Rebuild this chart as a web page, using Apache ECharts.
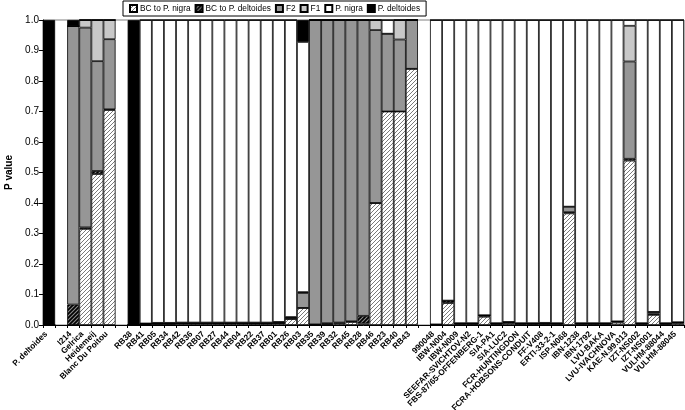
<!DOCTYPE html>
<html><head><meta charset="utf-8">
<script src="https://cdn.jsdelivr.net/npm/echarts@6/dist/echarts.min.js"></script>
<style>html,body{margin:0;padding:0;background:#fff}#c{width:685px;height:410px}</style>
</head><body><div id="c"></div>
<script>
const categories = ['P. deltoides',' ','I214','Gelrica','Heidemeij','Blanc Du Poitou','  ',
 'RB38','RB41','RB05','RB34','RB42','RB36','RB07','RB27','RB44','RB04','RB22','RB37','RB01','RB26','RB03','RB35','RB39','RB32','RB45','RB28','RB46','RB23','RB40','RB43','   ',
 '990048','IBW-N004','IBW-N009','SEEFAR-SVICHTOV-N2','FBS-87/65-OFFENBERG-1','SIA-PA1','SIA-LUC2','FCR-HUNTINGDON','FCRA-HOBSONS-CONDUIT','FF-V408','ERTI-33-2-1','ISP-N068','IBN-1238','IBN-1792','LVU-BAKA','LVU-IVACHNOVA','KAE-N.99.013','IZT-NS002','IZT-NS001','VULHM-88044','VULHM-88045'];

const bcNigra = [0,null,0,0.315,0.495,0.705,null,
 0,0.003,0.004,0.004,0.005,0.005,0.005,0.005,0.005,0.005,0.005,0.005,0.006,0.02,0.056,0.002,0.002,0.006,0.01,0.005,0.40,0.70,0.70,0.84,null,
 0.002,0.072,0.004,0.004,0.027,0.004,0.006,0.004,0.004,0.004,0.004,0.366,0.004,0.004,0.004,0.008,0.539,0.004,0.033,0.004,0.006];
const bcDeltoides = [0,null,0.067,0.005,0.01,0.002,null,
 0,0,0,0,0,0,0,0,0,0,0,0,0,0,0,0,0.004,0.002,0.002,0.025,0,0,0,0,null,
 0,0.008,0,0,0.005,0,0.004,0,0,0,0,0.004,0,0,0,0.004,0.006,0,0.004,0,0.003];
const f2 = [0,null,0.913,0.655,0.36,0.23,null,
 0,0.002,0.003,0.003,0.003,0.003,0.003,0.003,0.003,0.003,0.003,0.003,0.004,0.006,0.049,0.998,0.994,0.992,0.988,0.97,0.567,0.255,0.236,0.16,null,
 0,0,0.002,0.002,0,0.002,0,0.002,0.002,0.003,0.002,0.018,0.002,0.002,0.002,0,0.319,0.002,0.006,0.002,0];
const f1 = [0,null,0,0.025,0.135,0.063,null,
 0,0,0,0,0,0,0,0,0,0,0,0,0,0,0.003,0,0,0,0,0,0.033,0,0.064,0,null,
 0,0,0,0,0,0,0,0,0,0,0,0,0,0,0,0,0.117,0,0,0,0];
const pNigra = [0,null,0,0,0,0,null,
 0,0.995,0.993,0.993,0.992,0.992,0.992,0.992,0.992,0.992,0.992,0.992,0.99,0.974,0.82,0,0,0,0,0,0,0.045,0,0,null,
 0.998,0.92,0.994,0.994,0.968,0.994,0.99,0.994,0.994,0.993,0.994,0.612,0.994,0.994,0.994,0.988,0.019,0.994,0.957,0.994,0.991];
const pDeltoides = [1,null,0.02,0,0,0,null,
 1,0,0,0,0,0,0,0,0,0,0,0,0,0,0.072,0,0,0,0,0,0,0,0,0,null,
 0,0,0,0,0,0,0,0,0,0,0,0,0,0,0,0,0,0,0,0,0];
const seriesNames = ['BC to P. nigra','BC to P. deltoides','F2','F1','P. nigra','P. deltoides'];

function hatch(bg, fg, lw) {
  const c = document.createElement('canvas'); c.width = 4; c.height = 4;
  const g = c.getContext('2d');
  g.fillStyle = bg; g.fillRect(0, 0, 4, 4);
  g.strokeStyle = fg; g.lineWidth = lw; g.beginPath();
  g.moveTo(0, 4); g.lineTo(4, 0);
  g.moveTo(-1, 1); g.lineTo(1, -1);
  g.moveTo(3, 5); g.lineTo(5, 3);
  g.stroke();
  return c;
}
const lightHatch = { image: hatch('#ffffff', '#7a7a7a', 1), repeat: 'repeat' };
const darkHatch = { image: hatch('#000000', '#8c8c8c', 1.1), repeat: 'repeat' };
const colors = [lightHatch, darkHatch, '#969696', '#c8c8c8', '#ffffff', '#000000'];
const datas = [bcNigra, bcDeltoides, f2, f1, pNigra, pDeltoides];

const FONT = "'Liberation Sans',Arial,sans-serif";

const chart = echarts.init(document.getElementById('c'), null, { renderer: 'canvas' });
chart.setOption({
  animation: false,
  backgroundColor: '#fff',
  legend: {
    left: 123, top: 1,
    itemWidth: 7, itemHeight: 7, itemGap: 4,
    padding: [3, 6],
    borderColor: '#000', borderWidth: 1,
    icon: 'rect',
    textStyle: { fontSize: 8.3, fontFamily: FONT, color: '#000', padding: [0, 0, 0, -2] },
    data: seriesNames
  },
  grid: { left: 43, right: 1, top: 20, bottom: 85, outerBoundsMode: 'none', containLabel: false, show: true, borderColor: '#808080', borderWidth: 1, backgroundColor: '#fff' },
  xAxis: {
    type: 'category', data: categories,
    axisLine: { lineStyle: { color: '#000', width: 1 } },
    axisTick: { show: true, length: 3, interval: 0, lineStyle: { color: '#000' } },
    axisLabel: { interval: 0, rotate: 45, fontSize: 8.3, fontWeight: 'bold', fontFamily: FONT, color: '#000', margin: 5, padding: [0, 4, 0, 0] }
  },
  yAxis: {
    type: 'value', min: 0, max: 1, interval: 0.1,
    name: 'P value', nameLocation: 'middle', nameGap: 25, nameRotate: 90,
    nameTextStyle: { fontSize: 10, fontWeight: 'bold', fontFamily: FONT, color: '#000' },
    axisLine: { show: true, lineStyle: { color: '#000', width: 1 } },
    axisTick: { show: true, length: 4, lineStyle: { color: '#000' } },
    axisLabel: { fontSize: 10, fontFamily: FONT, color: '#000', margin: 4, formatter: v => v.toFixed(1) },
    splitLine: { show: false }
  },
  series: seriesNames.map((n, i) => ({
    name: n, type: 'bar', stack: 'total', data: datas[i],
    barCategoryGap: '0%', barGap: '0%',
    itemStyle: { color: colors[i], borderColor: '#000', borderWidth: 0.8 },
    emphasis: { disabled: true }
  }))
});
</script></body></html>
